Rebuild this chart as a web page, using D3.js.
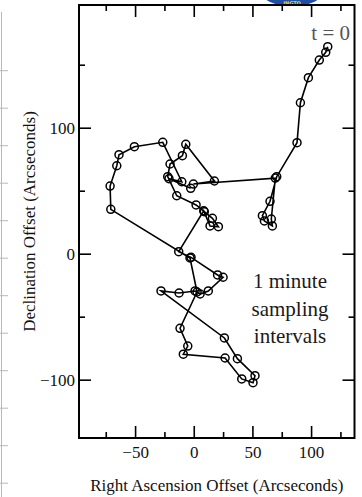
<!DOCTYPE html>
<html>
<head>
<meta charset="utf-8">
<script src="https://cdn.jsdelivr.net/npm/d3@7"></script>
<style>
  html, body { margin: 0; padding: 0; background: #fff; }
  svg { display: block; }
</style>
</head>
<body>
<svg id="chart" width="362" height="497"></svg>
<script>
// Right Ascension offsets (arcsec), in time order starting at t = 0
const raOffsets = [
  114.2, 112.5, 107.0, 97.7, 90.9, 88.0, 70.7, 65.0, 58.5, 60.2,
  67.0, 66.1, 69.5, -0.3, 17.6, -6.8, -9.7, -20.2, -22.2, -14.5,
  2.0, 9.0, 15.9, 21.0, 13.9, 8.5, -12.8, -2.3, 20.3, 25.0,
  12.4, 5.4, 1.1, -12.5, -27.9, 26.1, 37.2, 52.2, 50.5, 40.9,
  26.7, -8.9, -5.1, -11.7, 2.8, -3.2, -70.7, -71.3, -65.6, -63.7,
  -50.6, -26.4, -10.2, -21.1, -2.6
];
// Declination offsets (arcsec), same order
const decOffsets = [
  164.3, 159.8, 153.7, 139.7, 119.8, 88.1, 61.1, 41.6, 30.2, 26.0,
  22.0, 27.5, 60.0, 55.3, 57.7, 86.8, 77.8, 71.2, 61.1, 46.0,
  38.7, 33.3, 28.1, 21.4, 22.0, 34.0, 1.6, -2.9, -16.9, -18.7,
  -29.6, -32.0, -29.6, -31.2, -29.6, -66.9, -83.3, -96.8, -102.4, -99.4,
  -82.8, -79.8, -73.3, -59.2, -30.4, -3.4, 35.2, 53.7, 69.8, 78.6,
  84.9, 88.4, 57.1, 59.5, 51.9
];
const xMajorTicks = [-50, 0, 50, 100];
const xMinorTicks = [-75, -25, 25, 75, 125];
const yMajorTicks = [-100, 0, 100];
const yMinorTicks = [-50, 50, 150];
const xTitle = "Right Ascension Offset (Arcseconds)";
const yTitle = "Declination Offset (Arcseconds)";
const startLabel = "t = 0";
const noteLines = ["1 minute", "sampling", "intervals"];

const svg = d3.select("#chart");
const L = 79, R = 354.5, T = 5, B = 438;
const x = d3.scaleLinear().domain([-97.8, 137]).range([L, R]);
const y = d3.scaleLinear().domain([-146.3, 197.4]).range([B, T]);
const serif = "'Liberation Serif', 'Times New Roman', serif";

// faint remnant of neighbouring figure on the left edge
const ghost = svg.append("g").attr("stroke", "#b8b8b8").attr("stroke-width", 1);
ghost.append("line").attr("x1", 1.5).attr("x2", 1.5).attr("y1", 12).attr("y2", 497);
d3.range(70.7, 497, 37.5).forEach(v => {
  ghost.append("line").attr("x1", 0).attr("x2", 8).attr("y1", v).attr("y2", v);
});

// partial logo at the top
svg.append("ellipse").attr("cx", 292).attr("cy", -8).attr("rx", 31).attr("ry", 14)
  .attr("fill", "#1e4fa0");
svg.append("text").attr("x", 292).attr("y", 5).attr("text-anchor", "middle")
  .attr("font-family", "'DejaVu Sans', sans-serif").attr("font-size", 5).attr("font-weight", "bold")
  .attr("fill", "#f2d21b").text("INGTO");

// axes (ticks inward on all four sides)
const tickStyle = g => {
  g.select(".domain").remove();
  g.selectAll(".tick line").attr("stroke", "#000").attr("stroke-width", 1.6);
  g.selectAll(".tick text").attr("font-family", serif).attr("font-size", 17).attr("fill", "#111");
};
const fmt = d => d < 0 ? "\u2212" + Math.abs(d) : String(d);

svg.append("g").attr("transform", `translate(0,${B})`)
  .call(d3.axisBottom(x).tickValues(xMajorTicks).tickSize(-12).tickPadding(8).tickFormat(fmt)).call(tickStyle);
svg.append("g").attr("transform", `translate(0,${B})`)
  .call(d3.axisBottom(x).tickValues(xMinorTicks).tickSize(-6).tickFormat("")).call(tickStyle);
svg.append("g").attr("transform", `translate(0,${T})`)
  .call(d3.axisTop(x).tickValues(xMajorTicks).tickSize(-12).tickFormat("")).call(tickStyle);
svg.append("g").attr("transform", `translate(0,${T})`)
  .call(d3.axisTop(x).tickValues(xMinorTicks).tickSize(-6).tickFormat("")).call(tickStyle);

svg.append("g").attr("transform", `translate(${L},0)`)
  .call(d3.axisLeft(y).tickValues(yMajorTicks).tickSize(-12).tickPadding(4).tickFormat(fmt)).call(tickStyle);
svg.append("g").attr("transform", `translate(${L},0)`)
  .call(d3.axisLeft(y).tickValues(yMinorTicks).tickSize(-6).tickFormat("")).call(tickStyle);
svg.append("g").attr("transform", `translate(${R},0)`)
  .call(d3.axisRight(y).tickValues(yMajorTicks).tickSize(-12).tickFormat("")).call(tickStyle);
svg.append("g").attr("transform", `translate(${R},0)`)
  .call(d3.axisRight(y).tickValues(yMinorTicks).tickSize(-6).tickFormat("")).call(tickStyle);

// frame
svg.append("rect").attr("x", L).attr("y", T).attr("width", R - L).attr("height", B - T)
  .attr("fill", "none").attr("stroke", "#000").attr("stroke-width", 2);

// track
const pts = raOffsets.map((d, i) => [d, decOffsets[i]]);
svg.append("path").datum(pts)
  .attr("d", d3.line().x(d => x(d[0])).y(d => y(d[1])))
  .attr("fill", "none").attr("stroke", "#000").attr("stroke-width", 1.6);
svg.append("g").selectAll("circle").data(pts).join("circle")
  .attr("cx", d => x(d[0])).attr("cy", d => y(d[1])).attr("r", 4)
  .attr("fill", "none").attr("stroke", "#000").attr("stroke-width", 1.5);

// annotations
svg.append("text").attr("x", 350).attr("y", 40).attr("text-anchor", "end")
  .attr("font-family", serif).attr("font-size", 21).attr("fill", "#555").text(startLabel);
svg.append("g").selectAll("text").data(noteLines).join("text")
  .attr("x", 290).attr("y", (d, i) => 288 + i * 27.5).attr("text-anchor", "middle")
  .attr("font-family", serif).attr("font-size", 21).attr("fill", "#1a1a1a").text(d => d);

// axis titles
svg.append("text").attr("x", (L + R) / 2).attr("y", 491).attr("text-anchor", "middle")
  .attr("font-family", serif).attr("font-size", 17).attr("fill", "#111").text(xTitle);
svg.append("text").attr("transform", `translate(35,${(T + B) / 2}) rotate(-90)`)
  .attr("text-anchor", "middle")
  .attr("font-family", serif).attr("font-size", 17).attr("fill", "#111").text(yTitle);
</script>
</body>
</html>
